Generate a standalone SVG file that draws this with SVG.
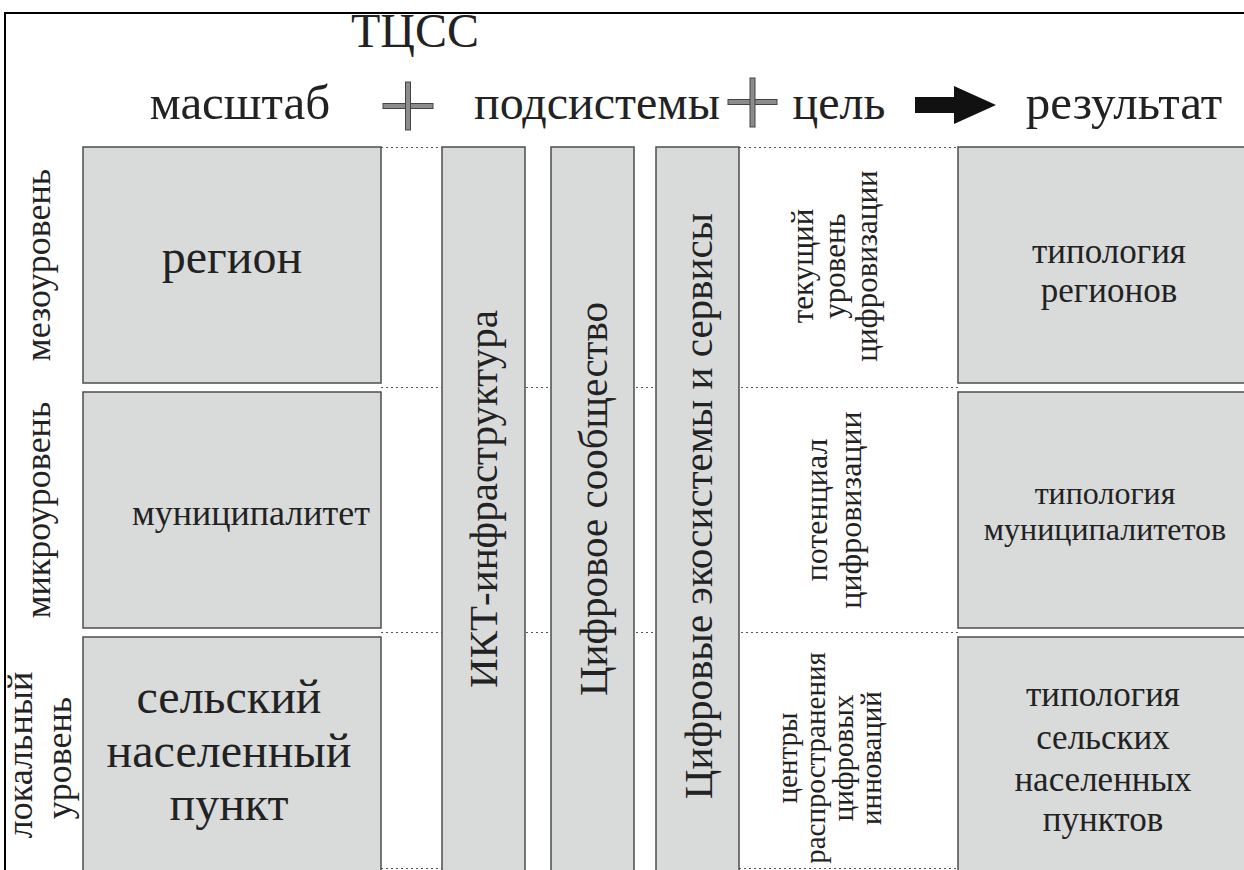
<svg xmlns="http://www.w3.org/2000/svg" width="1244" height="870" viewBox="0 0 1244 870" font-family="'Liberation Serif','DejaVu Serif',serif">
<style>
text{font-family:'Liberation Serif','DejaVu Serif',serif;fill:#222;}
.box{fill:#d9dada;stroke:#4d4d4d;stroke-width:1.5;}
.dot{stroke:#555;stroke-width:1.2;stroke-dasharray:2 3;fill:none;}
.hdr{font-size:48px;text-anchor:middle;}
.c{text-anchor:middle;}
.plus{fill:#8c8c8c;stroke:#444;stroke-width:1;}
</style>
<rect x="0" y="0" width="1244" height="870" fill="#fff"/>
<path d="M5,880 V13 H1250" fill="none" stroke="#000" stroke-width="2"/>

<g id="header">
<text class="hdr" x="415" y="47">ТЦСС</text>
<text class="hdr" x="240" y="119" style="font-size:49px">масштаб</text>
<g id="plus1"><rect class="plus" x="383" y="103.5" width="50" height="5"/><rect class="plus" x="405.5" y="82" width="5" height="48"/></g>
<text class="hdr" x="597" y="119">подсистемы</text>
<g id="plus2"><rect class="plus" x="728" y="99.5" width="49" height="5"/><rect class="plus" x="750" y="78" width="5" height="49"/></g>
<text class="hdr" x="839" y="119">цель</text>
<path id="arrow" d="M915,97 H954 V86 L996,105 L954,124 V113 H915 Z" fill="#111"/>
<text class="hdr" x="1124" y="119" style="font-size:49px">результат</text>
</g>

<g id="connectors">
<line class="dot" x1="381" y1="147.5" x2="442" y2="147.5"/>
<line class="dot" x1="739" y1="147.5" x2="958" y2="147.5"/>
<line class="dot" x1="381" y1="387.5" x2="958" y2="387.5"/>
<line class="dot" x1="381" y1="632.5" x2="958" y2="632.5"/>
<line class="dot" x1="381" y1="868.5" x2="442" y2="868.5"/>
<line class="dot" x1="739" y1="868.5" x2="958" y2="868.5"/>
</g>

<g id="level-labels">
<text class="c" style="font-size:36px" transform="translate(50,265) rotate(-90)">мезоуровень</text>
<text class="c" style="font-size:36px" transform="translate(50,510) rotate(-90)">микроуровень</text>
<text class="c" style="font-size:36px" transform="translate(32,755) rotate(-90)">локальный</text>
<text class="c" style="font-size:36px" transform="translate(71,758) rotate(-90)">уровень</text>
</g>

<g id="region">
<rect class="box" x="83" y="147" width="298" height="236"/>
<text class="c" style="font-size:48px" x="232" y="273">регион</text>
</g>
<g id="municipality">
<rect class="box" x="83" y="392" width="298" height="236"/>
<text class="c" style="font-size:36px" x="251" y="525">муниципалитет</text>
</g>
<g id="village">
<rect class="box" x="83" y="637" width="298" height="250"/>
<text class="c" style="font-size:48px" x="229" y="713">сельский</text>
<text class="c" style="font-size:48px" x="229" y="767">населенный</text>
<text class="c" style="font-size:48px" x="229" y="820">пункт</text>
</g>

<g id="ict">
<rect class="box" x="442" y="147" width="83" height="740"/>
<text class="c" style="font-size:41px" transform="translate(497,499) rotate(-90)">ИКТ-инфраструктура</text>
</g>
<g id="community">
<rect class="box" x="551" y="147" width="83" height="740"/>
<text class="c" style="font-size:41px" transform="translate(607,499) rotate(-90)">Цифровое сообщество</text>
</g>
<g id="ecosystems">
<rect class="box" x="656" y="147" width="83" height="740"/>
<text class="c" style="font-size:41px" transform="translate(712,506) rotate(-90)">Цифровые экосистемы и сервисы</text>
</g>

<g id="goal-1">
<text class="c" style="font-size:31px" transform="translate(813,266) rotate(-90)">текущий</text>
<text class="c" style="font-size:31px" transform="translate(845,266) rotate(-90)">уровень</text>
<text class="c" style="font-size:31px" transform="translate(877,266) rotate(-90)">цифровизации</text>
</g>
<g id="goal-2">
<text class="c" style="font-size:32px" transform="translate(827,510) rotate(-90)">потенциал</text>
<text class="c" style="font-size:32px" transform="translate(861,510) rotate(-90)">цифровизации</text>
</g>
<g id="goal-3">
<text class="c" style="font-size:29px" transform="translate(797,758) rotate(-90)">центры</text>
<text class="c" style="font-size:29px" transform="translate(825,758) rotate(-90)">распространения</text>
<text class="c" style="font-size:29px" transform="translate(853,758) rotate(-90)">цифровых</text>
<text class="c" style="font-size:29px" transform="translate(881,758) rotate(-90)">инноваций</text>
</g>

<g id="result-1">
<rect class="box" x="958" y="147" width="300" height="236"/>
<text class="c" style="font-size:35px" x="1109" y="263">типология</text>
<text class="c" style="font-size:35px" x="1109" y="302">регионов</text>
</g>
<g id="result-2">
<rect class="box" x="958" y="392" width="300" height="236"/>
<text class="c" style="font-size:32px" x="1105" y="504">типология</text>
<text class="c" style="font-size:32px" x="1105" y="540">муниципалитетов</text>
</g>
<g id="result-3">
<rect class="box" x="958" y="637" width="300" height="250"/>
<text class="c" style="font-size:35px" x="1103" y="706">типология</text>
<text class="c" style="font-size:35px" x="1103" y="749">сельских</text>
<text class="c" style="font-size:35px" x="1103" y="791">населенных</text>
<text class="c" style="font-size:35px" x="1103" y="831">пунктов</text>
</g>
</svg>
